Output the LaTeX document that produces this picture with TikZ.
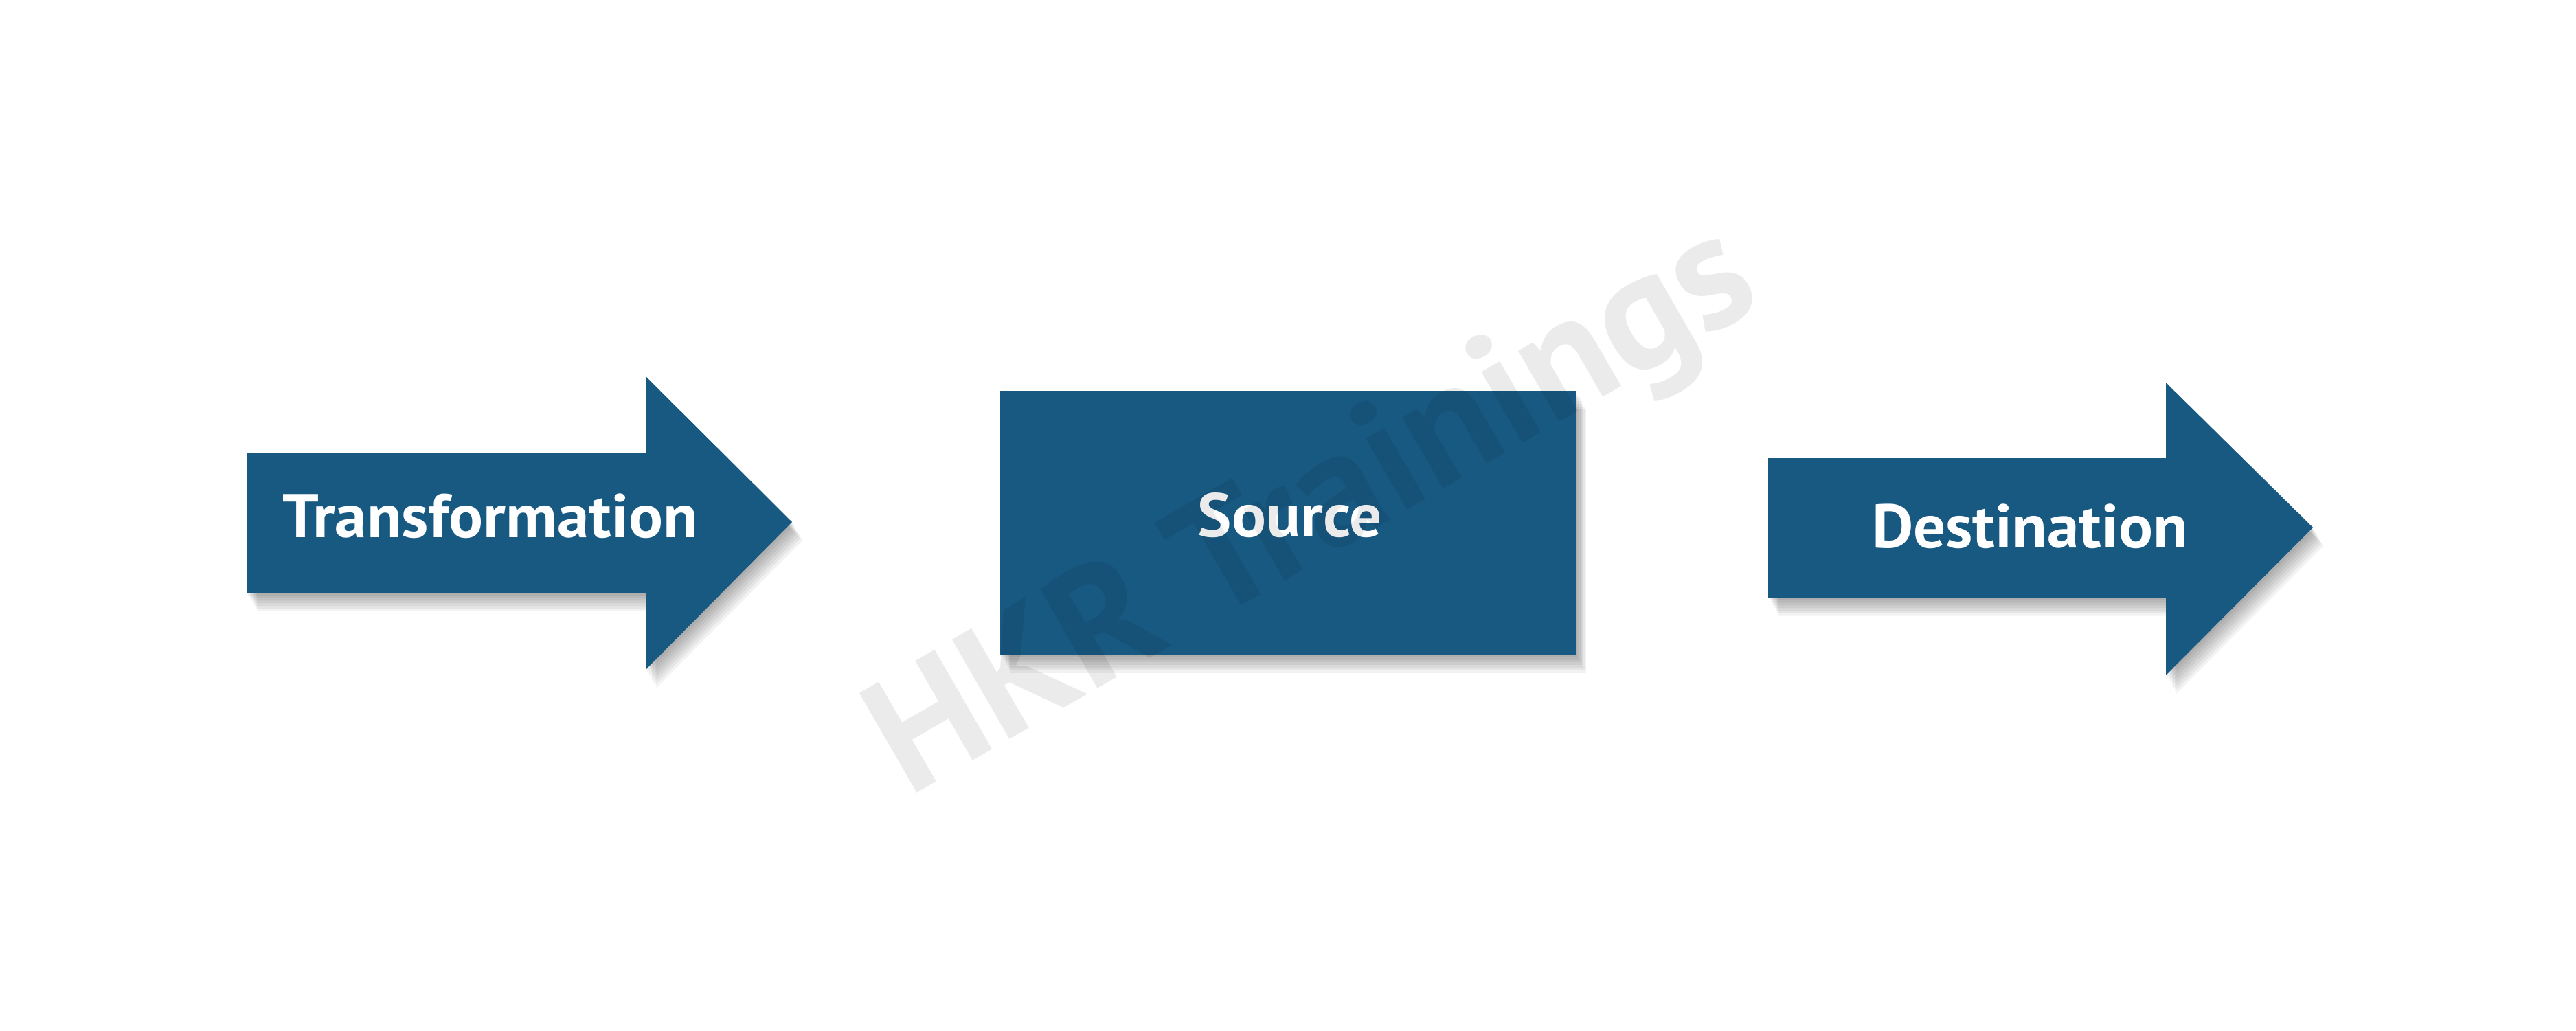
\documentclass[tikz,border=0pt]{standalone}
\usepackage{fontspec}
\setmainfont{PT Sans}
\definecolor{flowblue}{RGB}{24,89,130}
\tikzset{
  shapefill/.style={fill=flowblue, draw=none},
  shadowfill/.style={fill=black, fill opacity=0.05, draw=none},
  label/.style={text=white, font=\bfseries\fontsize{25.5}{30}\selectfont, inner sep=0pt, anchor=base},
  watermark/.style={text=black, text opacity=0.08, font=\bfseries\fontsize{68}{80}\selectfont, inner sep=0pt, anchor=base west, rotate=30}
}
\newcommand{\widen}[1]{\scalebox{1.04}[1]{#1}}
\newcommand{\larrowpath}{(3.59,8.40) -- (9.40,8.40) -- (9.40,9.52) -- (11.53,7.40) -- (9.40,5.25) -- (9.40,6.37) -- (3.59,6.37) -- cycle}
\newcommand{\rarrowpath}{(25.74,8.33) -- (31.53,8.33) -- (31.53,9.43) -- (33.67,7.32) -- (31.53,5.17) -- (31.53,6.30) -- (25.74,6.30) -- cycle}
\newcommand{\boxpath}{(14.56,5.47) rectangle (22.94,9.31)}
\begin{document}
\begin{tikzpicture}
\useasboundingbox (0,0) rectangle (37.5,15);
\fill[white] (0,0) rectangle (37.5,15);
% shadows
\foreach \k in {1,...,7}{
  \fill[shadowfill, xshift=\k*0.022cm, yshift=-\k*0.038cm] \larrowpath;
  \fill[shadowfill, xshift=\k*0.022cm, yshift=-\k*0.038cm] \boxpath;
  \fill[shadowfill, xshift=\k*0.022cm, yshift=-\k*0.038cm] \rarrowpath;
}
% shapes
\fill[shapefill] \larrowpath;
\fill[shapefill] \boxpath;
\fill[shapefill] \rarrowpath;
% labels
\node[label] (transformation) at (7.14,7.18) {\widen{Transformation}};
\node[label] (source) at (18.78,7.19) {\widen{Source}};
\node[label] (destination) at (29.55,7.03) {\widen{Destination}};
% watermark
\node[watermark] (wm) at (13.22,3.38) {HKR Trainings};
\end{tikzpicture}
\end{document}
